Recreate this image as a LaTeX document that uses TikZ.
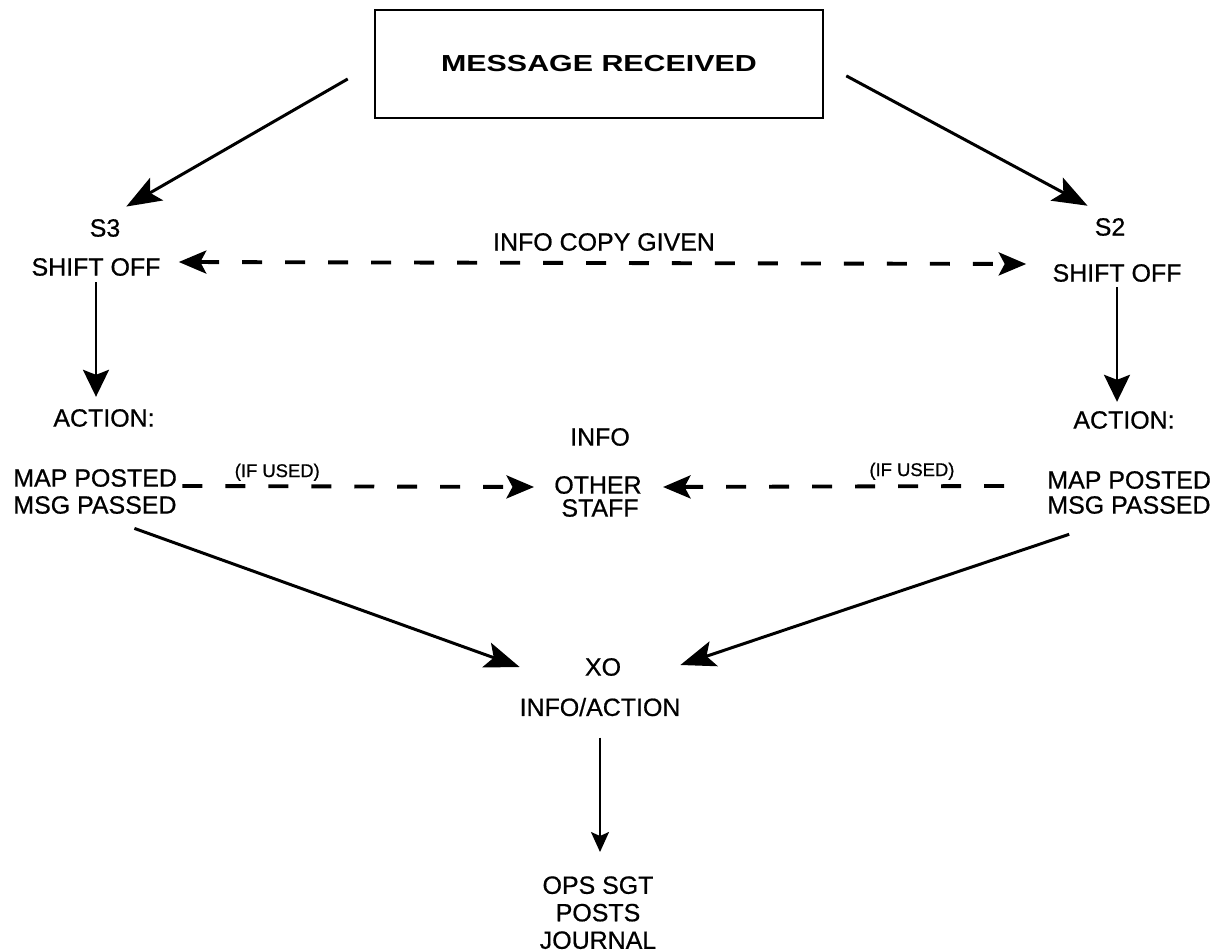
\documentclass[tikz,border=0pt]{standalone}
\usepackage{fontspec}
\setmainfont{Liberation Sans}
\newfontfamily\heavyfont[FakeBold=0.7]{Liberation Sans}
\usetikzlibrary{arrows.meta,calc}
\begin{document}
\begin{tikzpicture}[x=0.02cm,y=-0.02cm,
  txt/.style={inner sep=0pt, font=\heavyfont\fontsize{14.2}{15.65}\selectfont},
  small/.style={inner sep=0pt, font=\heavyfont\fontsize{10.5}{11}\selectfont},
  titlebox/.style={draw, line width=1.5pt, minimum width=8.96cm, minimum height=2.16cm, inner sep=0pt,
    font=\fontsize{13.2}{14}\selectfont\bfseries},
  bigarrow/.style={line width=1.7pt, -{Stealth[length=0.7cm,width=0.52cm,inset=0.15cm]}},
  dasharrow/.style={line width=2.2pt, dash pattern=on 0.4cm off 0.46cm,
    {Stealth[length=0.55cm,width=0.46cm,inset=0.12cm]}-{Stealth[length=0.55cm,width=0.46cm,inset=0.12cm]}},
  dashone/.style={line width=2.2pt, dash pattern=on 0.4cm off 0.46cm,
    -{Stealth[length=0.55cm,width=0.46cm,inset=0.12cm]}},
  varrow/.style={line width=1.5pt, -{Stealth[length=0.54cm,width=0.52cm,inset=0.1cm]}},
  xoarrow/.style={line width=1.1pt, -{Stealth[length=0.4cm,width=0.36cm,inset=0.08cm]}}
]
\useasboundingbox (0,0) rectangle (1212,952);

% nodes
\node[titlebox] (title) at (599,64) {\scalebox{1.31}[1]{MESSAGE RECEIVED}};
\node[txt] (s3) at (105,228) {S3};
\node[txt] (s2) at (1110,227) {S2};
\node[txt] (shiftL) at (96,267) {SHIFT OFF};
\node[txt] (shiftR) at (1117,273) {SHIFT OFF};
\node[txt] (copy) at (604,242) {INFO COPY GIVEN};
\node[txt] (actionL) at (104,418) {ACTION:};
\node[txt] (actionR) at (1124,420) {ACTION:};
\node[txt, anchor=west] (mapL) at (13,478) {MAP POSTED};
\node[txt, anchor=west] (msgL) at (13,505) {MSG PASSED};
\node[txt, anchor=west] (mapR) at (1047,480) {MAP POSTED};
\node[txt, anchor=west] (msgR) at (1047,505) {MSG PASSED};
\node[txt] (info) at (600,437) {INFO};
\node[txt] (other) at (598,485) {OTHER};
\node[txt] (staff) at (600,508) {STAFF};
\node[txt] (xo) at (603,667) {XO};
\node[txt] (infoact) at (600,707) {INFO/ACTION};
\node[txt, anchor=north, align=center] (ops) at (598,876) {OPS SGT\\POSTS\\JOURNAL};

% connectors
\draw[bigarrow, shorten <=0.6cm, shorten >=0.49cm] (title.west) -- (s3.north);
\draw[bigarrow, shorten <=0.5cm, shorten >=0.51cm] (title.east) -- (s2.north);
\draw[dasharrow] ($(shiftL.east)+(18,-5)$) -- ($(shiftR.west)+(-26,-9)$);
\draw[varrow, shorten <=0.12cm, shorten >=0.24cm] (shiftL.south) -- (shiftL.south |- actionL.north);
\draw[varrow, shorten <=0.1cm, shorten >=0.18cm] (shiftR.south) -- (shiftR.south |- actionR.north);
\draw[dashone] ($(mapL.east)+(5,8)$) -- ($(other.west)+(-20,2)$)
  node[small, pos=0.27, yshift=0.28cm] {(IF USED)};
\draw[dashone] ($(mapR.west)+(-43,6)$) -- ($(other.east)+(21,2)$)
  node[small, pos=0.27, yshift=0.3cm] {(IF USED)};
\draw[bigarrow, shorten <=0.84cm] (msgL.south) -- ($(xo.west)+(-65,0)$);
\draw[bigarrow, shorten <=1.26cm] (msgR.south) -- ($(xo.east)+(59,-2)$);
\draw[xoarrow, shorten <=0.42cm, shorten >=0.48cm] (infoact.south) -- (infoact.south |- ops.north);
\end{tikzpicture}
\end{document}
